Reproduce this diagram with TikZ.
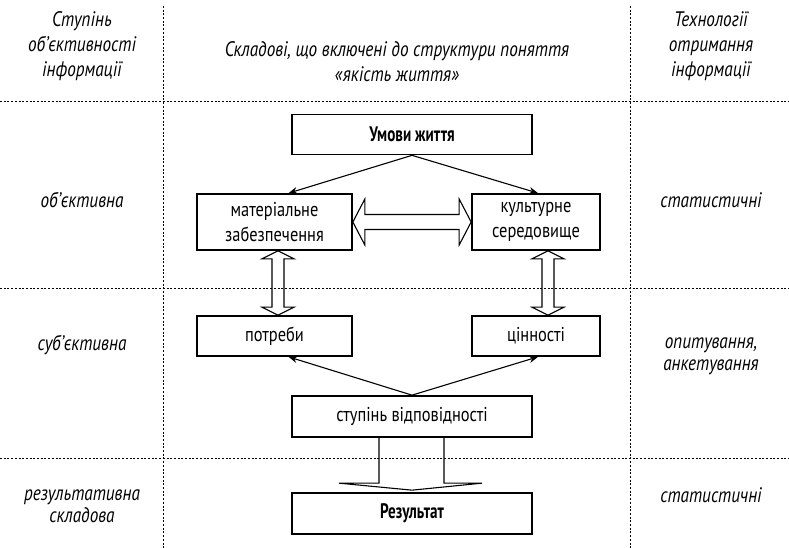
\documentclass[tikz,border=0pt]{standalone}
\usepackage{fontspec}
\setmainfont[FakeStretch=0.82, BoldFeatures={FakeStretch=0.72}]{PT Sans}
\usetikzlibrary{positioning,calc,arrows.meta}

\tikzset{
  box/.style={draw, line width=1.7pt, inner sep=0pt, align=center,
    font=\fontsize{20}{25.5}\selectfont},
  boldbox/.style={box, font=\fontsize{21}{24}\selectfont\bfseries},
  colhead/.style={align=center, font=\fontsize{21}{25}\selectfont\itshape},
  rowlabel/.style={align=center, font=\fontsize{21}{22}\selectfont\itshape},
  gridline/.style={line width=0.7pt, dash pattern=on 2pt off 1.7pt},
  link/.style={line width=1.1pt, -{Stealth[length=9pt,width=7pt]}},
  hollow/.style={line width=1.1pt, line join=miter}
}

\begin{document}
\begin{tikzpicture}[x=1pt,y=-1pt]
\useasboundingbox (0,0) rectangle (789,548);

% table grid
\draw[gridline] (163,6) -- (163,548);
\draw[gridline] (630,6) -- (630,548);
\draw[gridline] (0,101) -- (789,101);
\draw[gridline] (0,288) -- (789,288);
\draw[gridline] (0,458) -- (789,458);

% column heads
\node[colhead] (hdleft) at (82,46) {Ступінь\\обʼєктивності\\інформації};
\node[colhead] (hdmid) at (397,62) {Складові, що включені до структури поняття\\«якість життя»};
\node[colhead] (hdright) at (711,46) {Технології\\отримання\\інформації};

% row labels
\node[rowlabel] (objl) at (82,200) {обʼєктивна};
\node[rowlabel] (objr) at (711,200) {статистичні};
\node[rowlabel] (subl) at (82,345) {субʼєктивна};
\node[rowlabel] (subr) at (711,356) {опитування,\\анкетування};
\node[rowlabel] (resl) at (82,506) {результативна\\складова};
\node[rowlabel] (resr) at (711,495) {статистичні};

% boxes
\node[boldbox, minimum width=240pt, minimum height=40pt] (life) at (412,134.5) {Умови життя};
\node[box, minimum width=155pt, minimum height=56pt] (mat) at (274.5,222) {матеріальне\\забезпечення};
\node[box, minimum width=128pt, minimum height=56pt] (cult) at (536,222) {культурне\\середовище};
\node[box, minimum width=155pt, minimum height=40pt] (needs) at (274.5,336) {потреби};
\node[box, minimum width=128pt, minimum height=40pt] (values) at (536,336) {цінності};
\node[box, minimum width=240pt, minimum height=41pt] (degree) at (412,416.5) {ступінь відповідності};
\node[boldbox, minimum width=240pt, minimum height=41pt] (result) at (412,513.5) {Результат};

% thin arrows
\draw[link] (life.south) -- ($(mat.north)+(14,0)$);
\draw[link] (life.south) -- ($(cult.north)+(2,0)$);
\draw[link] (degree.north) -- ($(needs.south)+(14,0)$);
\draw[link] (degree.north) -- ($(values.south)+(2,0)$);

% hollow arrow between the upper boxes
\draw[hollow] (mat.east) -- ($(mat.east)+(12,-23)$) -- ($(mat.east)+(12,-7.5)$)
  -- ($(cult.west)+(-12,-7.5)$) -- ($(cult.west)+(-12,-23)$) -- (cult.west)
  -- ($(cult.west)+(-12,23)$) -- ($(cult.west)+(-12,7.5)$)
  -- ($(mat.east)+(12,7.5)$) -- ($(mat.east)+(12,23)$) -- cycle;

% hollow vertical arrows
\coordinate (la) at ($(mat.south)+(3.5,0)$);
\coordinate (lb) at ($(needs.north)+(3.5,0)$);
\draw[hollow] (la) -- ($(la)+(16,8)$) -- ($(la)+(6,8)$) -- ($(lb)+(6,-8)$)
  -- ($(lb)+(16,-8)$) -- (lb) -- ($(lb)+(-16,-8)$) -- ($(lb)+(-6,-8)$)
  -- ($(la)+(-6,8)$) -- ($(la)+(-16,8)$) -- cycle;
\coordinate (ra) at ($(cult.south)+(12,0)$);
\coordinate (rb) at ($(values.north)+(12,0)$);
\draw[hollow] (ra) -- ($(ra)+(16,8)$) -- ($(ra)+(6,8)$) -- ($(rb)+(6,-8)$)
  -- ($(rb)+(16,-8)$) -- (rb) -- ($(rb)+(-16,-8)$) -- ($(rb)+(-6,-8)$)
  -- ($(ra)+(-6,8)$) -- ($(ra)+(-16,8)$) -- cycle;

% wide arrow to the result
\coordinate (tip) at ($(result.north)+(0,-2)$);
\draw[hollow] ($(degree.south)+(-33,0)$) -- ($(tip)+(-33,-7)$) -- ($(tip)+(-73,-7)$)
  -- (tip) -- ($(tip)+(70,-7)$) -- ($(tip)+(32,-7)$) -- ($(degree.south)+(32,0)$);
\end{tikzpicture}
\end{document}
